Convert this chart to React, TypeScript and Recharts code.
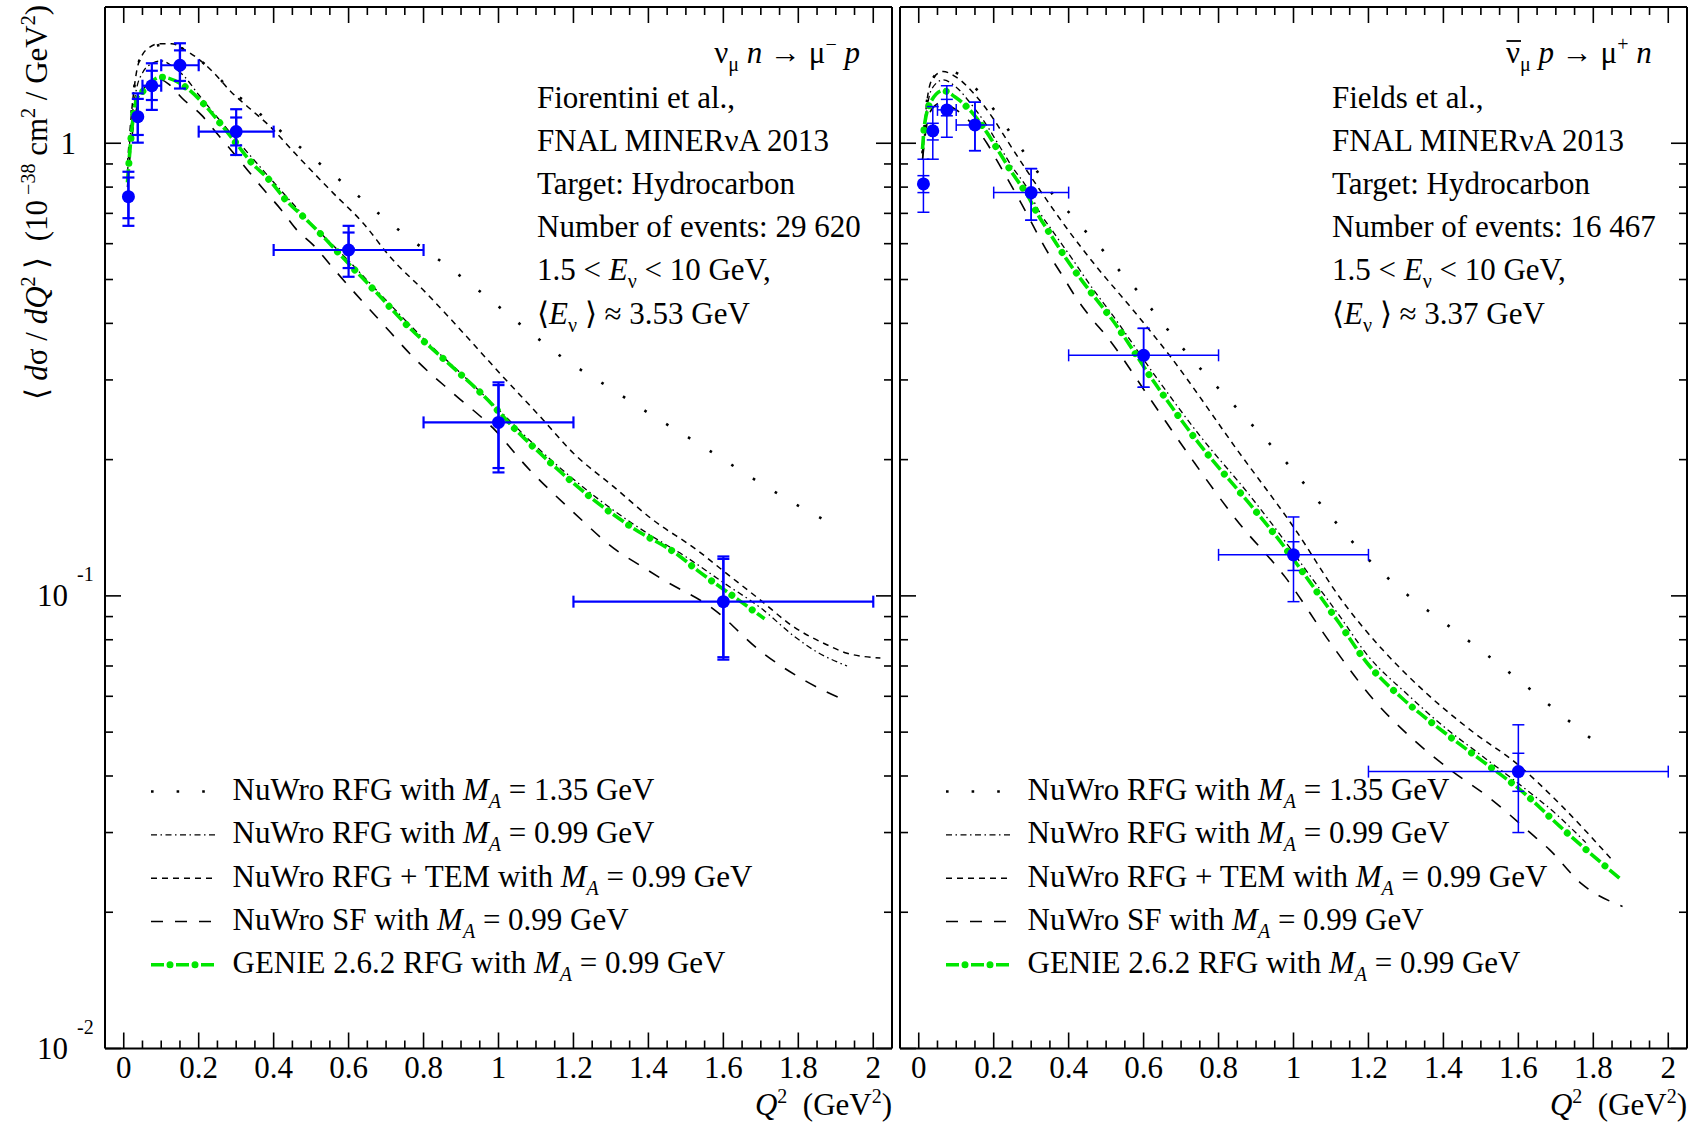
import React from 'react';
import { ComposedChart, Line, Scatter, XAxis, YAxis, ErrorBar } from 'recharts';

const FONT = "'Liberation Serif', 'Times New Roman', Times, serif";
const BLUE = '#0000ff';
const GREEN = '#00e600';
const FS = 31;
const FS_SMALL = 20;

// ---------- axis ticks ----------
const xMajorTicks = [0, 0.2, 0.4, 0.6, 0.8, 1, 1.2, 1.4, 1.6, 1.8, 2];
const xMajorLabels = ['0', '0.2', '0.4', '0.6', '0.8', '1', '1.2', '1.4', '1.6', '1.8', '2'];
const xMinorTicks = [0.05, 0.1, 0.15, 0.25, 0.3, 0.35, 0.45, 0.5, 0.55, 0.65, 0.7, 0.75, 0.85, 0.9, 0.95,
  1.05, 1.1, 1.15, 1.25, 1.3, 1.35, 1.45, 1.5, 1.55, 1.65, 1.7, 1.75, 1.85, 1.9, 1.95];
const yMajorTicks = [0.01, 0.1, 1];
const yMajorBase = ['10', '10', '1'];
const yMajorExp = ['-2', '-1', ''];
const yMinorTicks = [0.02, 0.03, 0.04, 0.05, 0.06, 0.07, 0.08, 0.09, 0.2, 0.3, 0.4, 0.5, 0.6, 0.7, 0.8, 0.9];

// ---------- data points (MINERvA) ----------
const q2Centers = [0.0125, 0.0375, 0.075, 0.15, 0.3, 0.6, 1.0, 1.6];
const binLow = [0, 0.025, 0.05, 0.1, 0.2, 0.4, 0.8, 1.2];
const binHigh = [0.025, 0.05, 0.1, 0.2, 0.4, 0.8, 1.2, 2.0];
// horizontal bars narrower than the marker are not drawn (as in the original)
const xBarShown = [false, false, true, true, true, true, true, true];

const xsecNu = [0.762, 1.145, 1.34, 1.487, 1.061, 0.581, 0.2417, 0.0971];
const totHiNu = [0.865, 1.289, 1.502, 1.663, 1.189, 0.657, 0.2963, 0.1222];
const statHiNu = [0.84, 1.253, 1.446, 1.604, 1.14, 0.635, 0.2922, 0.1207];
const statLoNu = [0.683, 1.043, 1.246, 1.373, 0.989, 0.53, 0.1916, 0.0732];
const totLoNu = [0.657, 1.003, 1.185, 1.321, 0.942, 0.507, 0.1874, 0.0723];

const xsecAnu = [0.813, 1.065, 1.185, 1.098, 0.778, 0.34, 0.1232, 0.0409];
const totHiAnu = [0.922, 1.205, 1.34, 1.232, 0.879, 0.39, 0.1494, 0.0519];
const statHiAnu = [0.848, 1.107, 1.25, 1.232, 0.879, 0.39, 0.1317, 0.0449];
const statLoAnu = [0.778, 1.017, 1.15, 0.963, 0.676, 0.289, 0.1138, 0.037];
const totLoAnu = [0.704, 0.922, 1.031, 0.963, 0.676, 0.289, 0.0971, 0.03];

// ---------- model curves, neutrino panel ----------
const dotNuQ = [0.01, 0.02, 0.035, 0.05, 0.065, 0.096, 0.127, 0.163, 0.203, 0.237, 0.286, 0.338, 0.392, 0.4415, 0.494, 0.546, 0.599, 0.648, 0.753, 0.862, 0.969, 1.073, 1.18, 1.293, 1.405, 1.52, 1.578, 1.692, 1.807, 1.867];
const dotNuV = [0.9, 1.15, 1.45, 1.57, 1.6, 1.649, 1.657, 1.607, 1.527, 1.44, 1.311, 1.209, 1.11, 1.026, 0.944, 0.87, 0.8, 0.737, 0.625, 0.5365, 0.4575, 0.389, 0.332, 0.2895, 0.252, 0.2204, 0.2056, 0.1789, 0.157, 0.1475];

const rfgNuQ = [0.01, 0.02, 0.035, 0.05, 0.075, 0.1, 0.13, 0.16, 0.2, 0.25, 0.3, 0.4, 0.5, 0.6, 0.7, 0.8, 0.9, 1.0, 1.1, 1.2, 1.3, 1.4, 1.5, 1.6, 1.7, 1.79, 1.84, 1.93];
const rfgNuV = [0.86, 1.1, 1.33, 1.43, 1.5, 1.52, 1.48, 1.41, 1.28, 1.14, 1.02, 0.82, 0.665, 0.55, 0.45, 0.37, 0.31, 0.258, 0.214, 0.181, 0.156, 0.137, 0.122, 0.107, 0.094, 0.0813, 0.076, 0.07];

const temNuQ = [0.01, 0.02, 0.035, 0.05, 0.065, 0.096, 0.127, 0.163, 0.203, 0.237, 0.286, 0.338, 0.39, 0.457, 0.559, 0.639, 0.71, 0.808, 0.915, 1.004, 1.111, 1.2, 1.307, 1.413, 1.529, 1.609, 1.698, 1.787, 1.876, 1.93, 2.019];
const temNuV = [0.9, 1.15, 1.45, 1.57, 1.62, 1.66, 1.66, 1.607, 1.527, 1.44, 1.3, 1.19, 1.09, 0.95, 0.776, 0.666, 0.562, 0.466, 0.374, 0.31, 0.249, 0.2066, 0.1743, 0.147, 0.1264, 0.112, 0.098, 0.0855, 0.078, 0.0747, 0.0729];

const sfNuQ = [0.01, 0.02, 0.035, 0.05, 0.075, 0.1, 0.125, 0.156, 0.207, 0.25, 0.29, 0.33, 0.37, 0.42, 0.46, 0.51, 0.555, 0.69, 0.78, 0.886, 0.985, 1.075, 1.2, 1.317, 1.38, 1.44, 1.57, 1.705, 1.82, 1.93];
const sfNuV = [0.8, 1.0, 1.2, 1.3, 1.37, 1.38, 1.34, 1.257, 1.155, 1.048, 0.958, 0.873, 0.796, 0.713, 0.646, 0.591, 0.534, 0.4, 0.332, 0.277, 0.235, 0.193, 0.153, 0.1257, 0.1165, 0.1085, 0.094, 0.0748, 0.0648, 0.0585];

const genieNuQ = [0.01, 0.019, 0.034, 0.054, 0.075, 0.1, 0.16, 0.21, 0.26, 0.3, 0.34, 0.39, 0.43, 0.48, 0.53, 0.575, 0.67, 0.76, 0.86, 0.96, 1.05, 1.15, 1.25, 1.36, 1.48, 1.53, 1.64, 1.71];
const genieNuV = [0.82, 1.02, 1.25, 1.31, 1.37, 1.4, 1.34, 1.23, 1.1, 1.0, 0.908, 0.827, 0.753, 0.687, 0.625, 0.57, 0.472, 0.393, 0.33, 0.277, 0.231, 0.193, 0.164, 0.141, 0.123, 0.114, 0.098, 0.089];

// ---------- model curves, antineutrino panel ----------
const dotAnuQ = [0.01, 0.02, 0.035, 0.065, 0.09, 0.123, 0.17, 0.2115, 0.25, 0.29, 0.327, 0.367, 0.4115, 0.456, 0.5, 0.543, 0.588, 0.627, 0.714, 0.85, 0.986, 1.114, 1.2027, 1.303, 1.41, 1.517, 1.623, 1.728, 1.833];
const dotAnuV = [0.95, 1.2, 1.38, 1.447, 1.44, 1.392, 1.272, 1.155, 1.038, 0.931, 0.841, 0.752, 0.689, 0.624, 0.569, 0.514, 0.467, 0.424, 0.345, 0.259, 0.195, 0.145, 0.1197, 0.1007, 0.0863, 0.074, 0.063, 0.0535, 0.0456];

const rfgAnuQ = [0.01, 0.02, 0.035, 0.065, 0.1, 0.14, 0.18, 0.214, 0.25, 0.29, 0.32, 0.36, 0.4, 0.47, 0.51, 0.63, 0.75, 0.88, 0.96, 1.04, 1.12, 1.2, 1.3, 1.4, 1.5, 1.6, 1.7, 1.78];
const rfgAnuV = [0.92, 1.15, 1.32, 1.38, 1.33, 1.22, 1.1, 0.99, 0.885, 0.795, 0.71, 0.635, 0.57, 0.47, 0.425, 0.307, 0.226, 0.168, 0.138, 0.112, 0.091, 0.0735, 0.061, 0.0515, 0.0445, 0.0385, 0.033, 0.0285];

const temAnuQ = [0.01, 0.02, 0.035, 0.065, 0.1, 0.15, 0.2, 0.234, 0.314, 0.385, 0.474, 0.57, 0.669, 0.85, 1.0, 1.1316, 1.238, 1.354, 1.478, 1.594, 1.718, 1.85];
const temAnuV = [0.95, 1.2, 1.38, 1.44, 1.4, 1.28, 1.13, 1.02, 0.809, 0.666, 0.534, 0.43, 0.34, 0.21, 0.142, 0.0971, 0.076, 0.061, 0.0501, 0.0427, 0.0342, 0.0261];

const sfAnuQ = [0.01, 0.02, 0.035, 0.06, 0.09, 0.13, 0.182, 0.209, 0.271, 0.347, 0.382, 0.419, 0.456, 0.502, 0.618, 0.7315, 0.849, 0.978, 1.098, 1.218, 1.3155, 1.418, 1.5245, 1.629, 1.683, 1.769, 1.878];
const sfAnuV = [0.92, 1.08, 1.19, 1.23, 1.2, 1.13, 1.0, 0.915, 0.743, 0.569, 0.512, 0.457, 0.415, 0.374, 0.272, 0.199, 0.1467, 0.11, 0.0788, 0.0584, 0.0485, 0.0413, 0.0357, 0.0301, 0.0275, 0.0231, 0.0206];

const genieAnuQ = [0.01, 0.016, 0.035, 0.065, 0.096, 0.136, 0.179, 0.214, 0.25, 0.287, 0.321, 0.358, 0.394, 0.434, 0.474, 0.514, 0.629, 0.747, 0.878, 0.963, 1.043, 1.121, 1.198, 1.293, 1.4, 1.505, 1.61, 1.71, 1.81, 1.88];
const genieAnuV = [0.97, 1.107, 1.246, 1.307, 1.267, 1.185, 1.065, 0.958, 0.858, 0.775, 0.689, 0.617, 0.555, 0.499, 0.452, 0.41, 0.296, 0.2175, 0.1615, 0.1324, 0.1075, 0.0873, 0.0708, 0.0591, 0.0501, 0.0431, 0.037, 0.031, 0.0262, 0.0234];

// ---------- text ----------
const legendPrefixes = ['NuWro RFG with ', 'NuWro RFG with ', 'NuWro RFG + TEM with ', 'NuWro SF with ', 'GENIE 2.6.2 RFG with '];
const legendMA = ['1.35', '0.99', '0.99', '0.99', '0.99'];
const infoNu = ['Fiorentini et al.,', 'FNAL MINERνA 2013', 'Target: Hydrocarbon', 'Number of events: 29 620'];
const infoAnu = ['Fields et al.,', 'FNAL MINERνA 2013', 'Target: Hydrocarbon', 'Number of events: 16 467'];
const meanEnu = ['3.53', '3.37'];

// ---------- styles ----------
const STY: Record<string, any> = {
  dot: { stroke: '#000', strokeWidth: 2.6, strokeDasharray: '2.6 23' },
  rfg: { stroke: '#000', strokeWidth: 1.3, strokeDasharray: '6 3.5 1.5 3.5' },
  tem: { stroke: '#000', strokeWidth: 1.5, strokeDasharray: '6 5' },
  sf: { stroke: '#000', strokeWidth: 1.6, strokeDasharray: '12 12' },
  genieDash: { stroke: GREEN, strokeWidth: 3.6, strokeDasharray: '13 12' },
  genieDot: { stroke: GREEN, strokeWidth: 7, strokeDasharray: '0.01 24.99', strokeDashoffset: 6, strokeLinecap: 'round' },
};

const zip = (xs: number[], ys: number[]) => xs.map((x, i) => ({ x, y: ys[i] }));
const buildPoints = (v: number[], sLo: number[], sHi: number[], tLo: number[], tHi: number[]) =>
  q2Centers.map((x, i) => ({
    x,
    y: v[i],
    ex: xBarShown[i] ? [x - binLow[i], binHigh[i] - x] : [0, 0],
    eTot: [v[i] - tLo[i], tHi[i] - v[i]],
    eStat: [v[i] - sLo[i], sHi[i] - v[i]],
  }));

const MAJ = 16;
const MIN = 8;
const TW = 1.6;
const near = (a: number, b: number) => Math.abs(a - b) < 1e-6;
const xAllTicks = [...xMajorTicks, ...xMinorTicks].sort((a, b) => a - b);
const yAllTicks = [...yMajorTicks, ...yMinorTicks].sort((a, b) => a - b);

const bottomTick = (p: any) => {
  const v = p.payload.value;
  const mi = xMajorTicks.findIndex((t) => near(t, v));
  const major = mi >= 0;
  return (
    <g>
      <line x1={p.x} x2={p.x} y1={p.y} y2={p.y - (major ? MAJ : MIN)} stroke="#000" strokeWidth={TW} />
      {major && (
        <text x={p.x} y={p.y + 29} textAnchor="middle" fontFamily={FONT} fontSize={FS} fill="#000">
          {xMajorLabels[mi]}
        </text>
      )}
    </g>
  );
};
const topTick = (p: any) => {
  const v = p.payload.value;
  const major = xMajorTicks.some((t) => near(t, v));
  return <line x1={p.x} x2={p.x} y1={p.y} y2={p.y + (major ? MAJ : MIN)} stroke="#000" strokeWidth={TW} />;
};
const makeLeftTick = (labels: boolean) => (p: any) => {
  const v = p.payload.value;
  const mi = yMajorTicks.findIndex((t) => near(t, v));
  const major = mi >= 0;
  return (
    <g>
      <line x1={p.x} x2={p.x + (major ? MAJ : MIN)} y1={p.y} y2={p.y} stroke="#000" strokeWidth={TW} />
      {labels && major && yMajorExp[mi] === '' && (
        <text x={p.x - 29} y={p.y + 10.5} textAnchor="end" fontFamily={FONT} fontSize={FS} fill="#000">
          {yMajorBase[mi]}
        </text>
      )}
      {labels && major && yMajorExp[mi] !== '' && (
        <g>
          <text x={p.x - 68} y={p.y + 10.5} fontFamily={FONT} fontSize={FS} fill="#000">{yMajorBase[mi]}</text>
          <text x={p.x - 28} y={p.y - 15} fontFamily={FONT} fontSize={FS_SMALL} fill="#000">{yMajorExp[mi]}</text>
        </g>
      )}
    </g>
  );
};
const rightTick = (p: any) => {
  const v = p.payload.value;
  const major = yMajorTicks.some((t) => near(t, v));
  return <line x1={p.x} x2={p.x - (major ? MAJ : MIN)} y1={p.y} y2={p.y} stroke="#000" strokeWidth={TW} />;
};

const AX = { stroke: '#000', strokeWidth: 2 };

type PanelProps = {
  left: number;
  width: number;
  marginLeft: number;
  yAxisWidth: number;
  labels: boolean;
  curves: { data: { x: number; y: number }[]; style: any; key: string }[];
  points: any[];
  ebw: number;
};

function Panel({ left, width, marginLeft, yAxisWidth, labels, curves, points, ebw }: PanelProps) {
  const common = { xAxisId: 'b', yAxisId: 'l' };
  return (
    <div style={{ position: 'absolute', left, top: 0 }}>
      <ComposedChart width={width} height={1122} margin={{ top: 6, right: 7, bottom: 13.5, left: marginLeft }}>
        <XAxis xAxisId="b" dataKey="x" type="number" domain={[-0.05, 2.05]} allowDataOverflow ticks={xAllTicks}
          interval={0} tickSize={0} tickMargin={0} tickLine={false} axisLine={AX} tick={bottomTick} height={60}
          orientation="bottom" />
        <XAxis xAxisId="t" dataKey="x" type="number" domain={[-0.05, 2.05]} allowDataOverflow ticks={xAllTicks}
          interval={0} tickSize={0} tickMargin={0} tickLine={false} axisLine={AX} tick={topTick} height={1}
          orientation="top" />
        <YAxis yAxisId="l" dataKey="y" type="number" scale="log" domain={[0.01, 2]} allowDataOverflow ticks={yAllTicks}
          interval={0} tickSize={0} tickMargin={0} tickLine={false} axisLine={AX} tick={makeLeftTick(labels)}
          width={yAxisWidth} orientation="left" />
        <YAxis yAxisId="r" dataKey="y" type="number" scale="log" domain={[0.01, 2]} allowDataOverflow ticks={yAllTicks}
          interval={0} tickSize={0} tickMargin={0} tickLine={false} axisLine={AX} tick={rightTick} width={1}
          orientation="right" />
        {curves.map((c) => (
          <Line key={c.key} {...common} data={c.data} dataKey="y" type="monotone" dot={false} activeDot={false}
            isAnimationActive={false} {...c.style} />
        ))}
        <Scatter {...common} data={points} dataKey="y" isAnimationActive={false}
          shape={(p: any) => <circle cx={p.cx} cy={p.cy} r={6.5} fill={BLUE} />}>
          <ErrorBar dataKey="ex" direction="x" width={6} stroke={BLUE} strokeWidth={ebw} />
          <ErrorBar dataKey="eTot" direction="y" width={6} stroke={BLUE} strokeWidth={ebw} />
          <ErrorBar dataKey="eStat" direction="y" width={6} stroke={BLUE} strokeWidth={ebw} />
        </Scatter>
      </ComposedChart>
    </div>
  );
}

const mkCurves = (d: { dot: any; rfg: any; tem: any; sf: any; genie: any }) => [
  { key: 'dot', data: d.dot, style: STY.dot },
  { key: 'rfg', data: d.rfg, style: STY.rfg },
  { key: 'tem', data: d.tem, style: STY.tem },
  { key: 'sf', data: d.sf, style: STY.sf },
  { key: 'gd', data: d.genie, style: STY.genieDash },
  { key: 'gp', data: d.genie, style: STY.genieDot },
];

const legendStyles = [STY.dot, STY.rfg, STY.tem, STY.sf];
const LINE_Y = [107.5, 150.7, 193.9, 237.1, 280.3, 323.5];
const LEG_Y = [800, 843.3, 886.7, 930, 973.3];

function InfoLines({ x, info, mean }: { x: number; info: string[]; mean: string }) {
  return (
    <g>
      {info.map((s, i) => (
        <text key={i} x={x} y={LINE_Y[i]} fontSize={FS}>{s}</text>
      ))}
      <text x={x} y={LINE_Y[4]} fontSize={FS}>
        <tspan>1.5 &lt; </tspan>
        <tspan fontStyle="italic">E</tspan>
        <tspan dy={8} fontSize={FS_SMALL}>ν</tspan>
        <tspan dy={-8}> &lt; 10 GeV,</tspan>
      </text>
      <text x={x} y={LINE_Y[5]} fontSize={FS}>
        <tspan>⟨</tspan>
        <tspan fontStyle="italic">E</tspan>
        <tspan dy={8} fontSize={FS_SMALL}>ν</tspan>
        <tspan dy={-8}> ⟩ ≈ {mean} GeV</tspan>
      </text>
    </g>
  );
}

function ReactionNu() {
  return (
    <text x={860} y={63} textAnchor="end" fontSize={FS}>
      <tspan>ν</tspan>
      <tspan dy={8} fontSize={FS_SMALL}>μ</tspan>
      <tspan dy={-8}> </tspan>
      <tspan fontStyle="italic">n</tspan>
      <tspan> → μ</tspan>
      <tspan dy={-12} fontSize={FS_SMALL}>−</tspan>
      <tspan dy={12}> </tspan>
      <tspan fontStyle="italic">p</tspan>
    </text>
  );
}

function ReactionAnu() {
  return (
    <g>
      <line x1={1506.5} x2={1521} y1={41} y2={41} stroke="#000" strokeWidth={1.8} />
      <text x={1506} y={63} fontSize={FS}>
        <tspan>ν</tspan>
        <tspan dy={8} fontSize={FS_SMALL}>μ</tspan>
        <tspan dy={-8}> </tspan>
        <tspan fontStyle="italic">p</tspan>
        <tspan> → μ</tspan>
        <tspan dy={-12} fontSize={FS_SMALL}>+</tspan>
        <tspan dy={12}> </tspan>
        <tspan fontStyle="italic">n</tspan>
      </text>
    </g>
  );
}

function LegendBox({ frameLeft }: { frameLeft: number }) {
  const x0 = frameLeft + 46;
  const x1 = frameLeft + 110;
  const tx = frameLeft + 127.5;
  return (
    <g>
      {LEG_Y.map((y, i) => (
        <g key={i}>
          {i < 4 ? (
            <line x1={x0} x2={x1} y1={y - 8.5} y2={y - 8.5} fill="none" {...legendStyles[i]} />
          ) : (
            <g>
              <line x1={x0} x2={x1} y1={y - 8.5} y2={y - 8.5} {...STY.genieDash} />
              <line x1={x0} x2={x1} y1={y - 8.5} y2={y - 8.5} {...STY.genieDot} />
            </g>
          )}
          <text x={tx} y={y} fontSize={FS}>
            {legendPrefixes[i]}
            <tspan fontStyle="italic">M</tspan>
            <tspan fontStyle="italic" fontSize={FS_SMALL} dy={8}>A</tspan>
            <tspan dy={-8}> = {legendMA[i]} GeV</tspan>
          </text>
        </g>
      ))}
    </g>
  );
}

function XTitle({ right }: { right: number }) {
  return (
    <text x={right} y={1115} textAnchor="end" fontSize={FS}>
      <tspan fontStyle="italic">Q</tspan>
      <tspan dy={-12} fontSize={FS_SMALL}>2</tspan>
      <tspan dy={12}>{'\u00a0\u00a0(GeV'}</tspan>
      <tspan dy={-12} fontSize={FS_SMALL}>2</tspan>
      <tspan dy={12}>)</tspan>
    </text>
  );
}

function Overlay() {
  return (
    <svg width={1695} height={1122} style={{ position: 'absolute', left: 0, top: 0, pointerEvents: 'none' }}
      fontFamily={FONT} fill="#000">
      <text transform="translate(47,5) rotate(-90)" textAnchor="end" fontSize={FS}>
        <tspan>{'⟨ '}</tspan>
        <tspan fontStyle="italic">d</tspan>
        <tspan>{'σ / '}</tspan>
        <tspan fontStyle="italic">dQ</tspan>
        <tspan dy={-12} fontSize={FS_SMALL}>2</tspan>
        <tspan dy={12}>{' ⟩\u00a0\u00a0(10'}</tspan>
        <tspan dy={-12} fontSize={FS_SMALL}>{' −38'}</tspan>
        <tspan dy={12}>{' cm'}</tspan>
        <tspan dy={-12} fontSize={FS_SMALL}>2</tspan>
        <tspan dy={12}>{' / GeV'}</tspan>
        <tspan dy={-12} fontSize={FS_SMALL}>2</tspan>
        <tspan dy={12}>)</tspan>
      </text>
      <ReactionNu />
      <ReactionAnu />
      <InfoLines x={537} info={infoNu} mean={meanEnu[0]} />
      <InfoLines x={1332} info={infoAnu} mean={meanEnu[1]} />
      <LegendBox frameLeft={105} />
      <LegendBox frameLeft={900} />
      <XTitle right={892} />
      <XTitle right={1687} />
    </svg>
  );
}

export default function App() {
  const nuCurves = mkCurves({
    dot: zip(dotNuQ, dotNuV),
    rfg: zip(rfgNuQ, rfgNuV),
    tem: zip(temNuQ, temNuV),
    sf: zip(sfNuQ, sfNuV),
    genie: zip(genieNuQ, genieNuV),
  });
  const anuCurves = mkCurves({
    dot: zip(dotAnuQ, dotAnuV),
    rfg: zip(rfgAnuQ, rfgAnuV),
    tem: zip(temAnuQ, temAnuV),
    sf: zip(sfAnuQ, sfAnuV),
    genie: zip(genieAnuQ, genieAnuV),
  });
  const nuPts = buildPoints(xsecNu, statLoNu, statHiNu, totLoNu, totHiNu);
  const anuPts = buildPoints(xsecAnu, statLoAnu, statHiAnu, totLoAnu, totHiAnu);
  return (
    <div style={{ position: 'absolute', left: 0, top: 0, width: 1695, height: 1122, background: '#fff', fontFamily: FONT }}>
      <Panel left={0} width={900} marginLeft={35} yAxisWidth={70} labels={true} curves={nuCurves} points={nuPts} ebw={2.2} />
      <Panel left={892} width={803} marginLeft={7} yAxisWidth={1} labels={false} curves={anuCurves} points={anuPts} ebw={1.5} />
      <Overlay />
    </div>
  );
}
